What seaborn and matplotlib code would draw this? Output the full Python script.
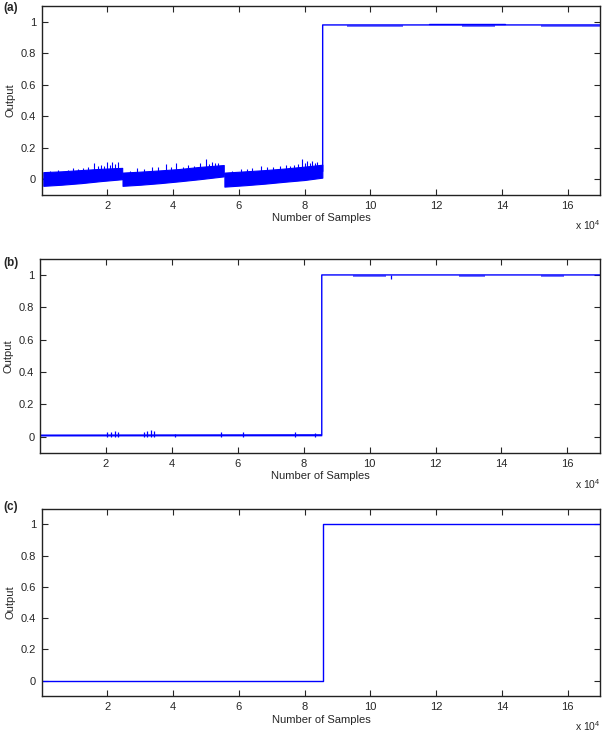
import numpy as np
import matplotlib.pyplot as plt
import seaborn as sns
from matplotlib.ticker import FuncFormatter

# ---- data (x in samples, y = output) ----
step_at = 85500
x_end = 170000

# panel (a): noisy low part (three ramps), then ~0.98
a_main_x = [1, step_at, step_at, x_end]
a_main_y = [0.0, 0.05, 0.979, 0.979]
a_seg1_x = [500, 6000, 12000, 18000, 24500]
a_seg1_lo = [-0.042, -0.035, -0.025, -0.012, 0.0]
a_seg1_hi = [0.045, 0.050, 0.058, 0.066, 0.072]
a_seg2_x = [24600, 30000, 36000, 42000, 48000, 55400]
a_seg2_lo = [-0.042, -0.035, -0.025, -0.013, 0.0, 0.018]
a_seg2_hi = [0.042, 0.048, 0.056, 0.065, 0.078, 0.090]
a_seg3_x = [55600, 62000, 68000, 74000, 80000, 85400]
a_seg3_lo = [-0.047, -0.038, -0.028, -0.016, -0.005, 0.010]
a_seg3_hi = [0.042, 0.050, 0.058, 0.068, 0.080, 0.092]
a_spike_x = [2500, 5000, 8000, 9500, 11000, 12500, 14000, 15800, 17000, 18100,
             19000, 19900, 20700, 21400, 22300, 23300,
             27000, 29000, 31000, 33500, 35500, 37700, 39500, 41000, 43000,
             44500, 46500, 48300, 50000, 51000, 51900, 52800, 53700,
             58000, 60500, 62500, 64000, 66600, 68500, 70500, 72500, 74200,
             75500, 76700, 78000, 79100, 80000, 80800, 81600, 82300, 83100, 83900]
a_spike_y = [0.055, 0.06, 0.06, 0.07, 0.065, 0.07, 0.08, 0.105, 0.085, 0.09,
             0.085, 0.11, 0.09, 0.11, 0.095, 0.11,
             0.055, 0.07, 0.065, 0.08, 0.075, 0.095, 0.08, 0.10, 0.08,
             0.09, 0.085, 0.10, 0.13, 0.095, 0.11, 0.10, 0.105,
             0.055, 0.065, 0.065, 0.07, 0.085, 0.075, 0.08, 0.085, 0.09,
             0.085, 0.09, 0.095, 0.126, 0.10, 0.116, 0.10, 0.115, 0.10, 0.11]
a_dip_start = [93000, 128000, 152000]
a_dip_end = [110000, 138000, 170000]
a_bump_x = [118000, 141000]
a_bump_y = [0.985, 0.985]

# panel (b): flat ~0.01, then 1.0
b_main_x = [1, step_at, step_at, x_end]
b_main_y = [0.01, 0.012, 1.0, 1.0]
b_spike_x = [20300, 21500, 22800, 23800, 31500, 32600, 33800, 34700,
             41000, 55000, 61500, 77500, 83500]
b_spike_y = [0.028, 0.03, 0.035, 0.03, 0.03, 0.035, 0.04, 0.035,
             0.02, 0.03, 0.03, 0.03, 0.022]
b_dip_start = [95000, 127000, 152000]
b_dip_end = [105000, 135000, 159000]
b_drop_x = [106500]
b_drop_y = [0.972]

# panel (c): flat 0, then 1.0
c_main_x = [1, step_at, step_at, x_end]
c_main_y = [0.001, 0.001, 1.0, 1.0]
c_dip_start = [93000, 130000, 153000]
c_dip_end = [106000, 140000, 158000]

yticks = [0, 0.2, 0.4, 0.6, 0.8, 1]
ytick_labels = ["0", "0.2", "0.4", "0.6", "0.8", "1"]
xticks = [20000, 40000, 60000, 80000, 100000, 120000, 140000, 160000]

sns.set_style("ticks")
plt.rcParams["font.family"] = ["Liberation Sans", "DejaVu Sans"]
plt.rcParams["mathtext.fontset"] = "custom"
plt.rcParams["mathtext.rm"] = "Liberation Sans"

blue = "#0000ff"

fig = plt.figure(figsize=(6.04, 7.33), dpi=100)
boxes = [(0.069, 0.734, 0.925, 0.258),
         (0.066, 0.382, 0.928, 0.265),
         (0.069, 0.050, 0.925, 0.256)]
axes = [fig.add_axes(b) for b in boxes]


def style(ax, label, label_y):
    ax.set_xlim(1, x_end)
    ax.set_ylim(-0.1, 1.1)
    ax.set_yticks(yticks)
    ax.set_yticklabels(ytick_labels)
    ax.set_xticks(xticks)
    ax.xaxis.set_major_formatter(FuncFormatter(lambda v, p: f"{v / 1e4:g}"))
    ax.tick_params(direction="in", top=True, right=True, length=4,
                   width=0.8, labelsize=8, pad=4)
    for s in ax.spines.values():
        s.set_linewidth(1.0)
        s.set_color("#222222")
    ax.set_xlabel("Number of Samples", fontsize=8, labelpad=2)
    ax.set_ylabel("Output", fontsize=8, labelpad=4)
    ax.text(1.0, -0.158, r"x 10$^4$", transform=ax.transAxes,
            ha="right", va="center", fontsize=7.5)
    fig.text(0.005, label_y, label, fontsize=8.5, fontweight="bold",
             ha="left", va="center")


def fuzz(ax, starts, ends, level, depth, alpha):
    for s, e in zip(starts, ends):
        ax.fill_between([s, e], [level - depth] * 2, [level] * 2,
                        color=blue, linewidth=0, alpha=alpha)


# (a)
ax = axes[0]
for sx, lo, hi in [(a_seg1_x, a_seg1_lo, a_seg1_hi),
                   (a_seg2_x, a_seg2_lo, a_seg2_hi),
                   (a_seg3_x, a_seg3_lo, a_seg3_hi)]:
    ax.fill_between(sx, lo, hi, color=blue, linewidth=0.8)
ax.vlines(a_spike_x, 0.02, a_spike_y, color=blue, linewidth=0.8)
sns.lineplot(x=a_main_x, y=a_main_y, ax=ax, color=blue, linewidth=1.0,
             sort=False, estimator=None)
fuzz(ax, a_dip_start, a_dip_end, 0.979, 0.012, 0.55)
ax.plot(a_bump_x, a_bump_y, color=blue, linewidth=1.0)
style(ax, "(a)", 1 - 8 / 733)

# (b)
ax = axes[1]
ax.fill_between([1, step_at], [0.005, 0.006], [0.014, 0.015], color=blue, linewidth=0)
ax.vlines(b_spike_x, 0.0, b_spike_y, color=blue, linewidth=0.9)
sns.lineplot(x=b_main_x, y=b_main_y, ax=ax, color=blue, linewidth=1.0,
             sort=False, estimator=None)
fuzz(ax, b_dip_start, b_dip_end, 1.0, 0.012, 0.55)
ax.vlines(b_drop_x, b_drop_y, 1.0, color=blue, linewidth=0.9)
style(ax, "(b)", 1 - 263 / 733)

# (c)
ax = axes[2]
sns.lineplot(x=c_main_x, y=c_main_y, ax=ax, color=blue, linewidth=1.0,
             sort=False, estimator=None)
fuzz(ax, c_dip_start, c_dip_end, 1.0, 0.006, 0.4)
style(ax, "(c)", 1 - 507 / 733)

fig.savefig("out.png", dpi=100)
